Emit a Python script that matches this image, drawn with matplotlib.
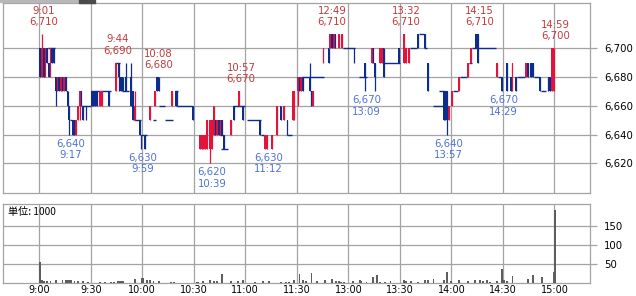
import matplotlib
matplotlib.use('Agg')
import matplotlib.pyplot as plt
from matplotlib.patches import Rectangle
import numpy as np

# session axis in minutes from 9:00 (lunch break removed, 11:30 == 12:30)
tick_pos = [0, 30, 60, 90, 120, 150, 180, 210, 240, 270, 300]
tick_labels = ['9:00', '9:30', '10:00', '10:30', '11:00', '11:30',
               '13:00', '13:30', '14:00', '14:30', '15:00']
price_ticks = [6620, 6640, 6660, 6680, 6700]
vol_ticks = [50, 100, 150]

# one-minute bars that moved
c_min = [0, 1, 2, 3, 4, 5, 6, 7, 8, 9,
         10, 11, 12, 13, 14, 15, 16, 17, 19, 20,
         21, 22, 23, 24, 25, 27, 30, 31, 32, 33,
         35, 36, 40, 44, 46, 47, 48, 50, 53, 54,
         55, 58, 59, 61, 64, 67, 68, 69, 77, 79,
         80, 89, 93, 94, 95, 96, 97, 99, 100, 101,
         102, 103, 104, 105, 106, 107, 111, 113, 116, 118,
         128, 131, 132, 135, 138, 140, 142, 144, 147, 148,
         150, 151, 152, 153, 157, 158, 159, 165, 168, 169,
         170, 171, 172, 174, 176, 183, 189, 193, 194, 195,
         198, 199, 200, 209, 212, 213, 215, 220, 224, 226,
         235, 236, 237, 238, 240, 244, 249, 251, 254, 255,
         266, 269, 272, 274, 275, 277, 283, 284, 286, 287,
         291, 296, 297, 298, 299]
c_open = [6700, 6680, 6700, 6680, 6700, 6690, 6680, 6700, 6700, 6680,
          6670, 6680, 6670, 6680, 6670, 6680, 6670, 6660, 6650, 6650,
          6640, 6650, 6660, 6670, 6660, 6660, 6670, 6670, 6670, 6670,
          6660, 6660, 6670, 6670, 6690, 6680, 6680, 6680, 6680, 6670,
          6650, 6650, 6640, 6640, 6650, 6660, 6680, 6680, 6660, 6670,
          6670, 6660, 6630, 6630, 6630, 6630, 6630, 6630, 6630, 6640,
          6650, 6640, 6650, 6640, 6650, 6640, 6640, 6660, 6660, 6660,
          6650, 6630, 6630, 6630, 6640, 6660, 6650, 6650, 6650, 6650,
          6670, 6680, 6670, 6680, 6680, 6670, 6660, 6690, 6700, 6700,
          6710, 6700, 6710, 6700, 6700, 6700, 6690, 6690, 6700, 6690,
          6690, 6690, 6700, 6700, 6690, 6690, 6690, 6710, 6710, 6690,
          6670, 6670, 6670, 6650, 6660, 6670, 6680, 6690, 6710, 6710,
          6680, 6680, 6690, 6680, 6670, 6680, 6680, 6690, 6690, 6690,
          6680, 6680, 6680, 6670, 6670]
c_high = [6700, 6710, 6700, 6700, 6700, 6690, 6700, 6700, 6700, 6680,
          6680, 6680, 6680, 6680, 6680, 6680, 6670, 6660, 6650, 6650,
          6650, 6660, 6670, 6670, 6660, 6660, 6670, 6670, 6670, 6670,
          6670, 6670, 6670, 6690, 6690, 6680, 6680, 6690, 6690, 6670,
          6670, 6650, 6640, 6640, 6660, 6670, 6680, 6680, 6670, 6670,
          6670, 6660, 6640, 6640, 6640, 6640, 6650, 6650, 6650, 6660,
          6650, 6650, 6650, 6650, 6650, 6640, 6650, 6660, 6670, 6660,
          6650, 6640, 6640, 6640, 6660, 6660, 6660, 6650, 6670, 6670,
          6680, 6680, 6680, 6680, 6690, 6670, 6670, 6700, 6700, 6710,
          6710, 6710, 6710, 6710, 6710, 6700, 6690, 6700, 6700, 6690,
          6700, 6700, 6700, 6700, 6710, 6700, 6700, 6710, 6710, 6690,
          6670, 6670, 6670, 6660, 6670, 6680, 6690, 6700, 6710, 6710,
          6690, 6680, 6690, 6680, 6690, 6680, 6690, 6690, 6690, 6690,
          6680, 6680, 6680, 6700, 6700]
c_low = [6680, 6680, 6680, 6680, 6690, 6680, 6680, 6690, 6690, 6660,
         6670, 6670, 6670, 6670, 6670, 6670, 6660, 6640, 6640, 6640,
         6640, 6650, 6650, 6660, 6650, 6650, 6660, 6660, 6660, 6660,
         6660, 6660, 6660, 6670, 6670, 6670, 6670, 6670, 6660, 6650,
         6650, 6640, 6630, 6630, 6650, 6660, 6670, 6670, 6660, 6660,
         6660, 6650, 6630, 6630, 6630, 6630, 6630, 6620, 6630, 6640,
         6640, 6640, 6640, 6640, 6640, 6630, 6640, 6650, 6660, 6650,
         6640, 6630, 6630, 6630, 6640, 6650, 6650, 6640, 6650, 6650,
         6660, 6670, 6670, 6670, 6670, 6660, 6660, 6690, 6690, 6700,
         6700, 6700, 6700, 6700, 6700, 6690, 6670, 6690, 6690, 6670,
         6690, 6690, 6680, 6690, 6690, 6690, 6690, 6700, 6700, 6670,
         6650, 6650, 6640, 6650, 6660, 6670, 6680, 6690, 6700, 6690,
         6680, 6670, 6670, 6670, 6670, 6670, 6680, 6680, 6680, 6680,
         6670, 6670, 6670, 6670, 6670]
c_close = [6680, 6700, 6680, 6700, 6690, 6680, 6700, 6690, 6690, 6670,
           6680, 6670, 6680, 6670, 6680, 6670, 6660, 6650, 6640, 6640,
           6650, 6660, 6670, 6660, 6650, 6650, 6660, 6660, 6660, 6660,
           6670, 6670, 6660, 6690, 6680, 6670, 6670, 6670, 6660, 6650,
           6660, 6640, 6630, 6630, 6660, 6670, 6670, 6670, 6670, 6660,
           6660, 6650, 6640, 6640, 6640, 6640, 6650, 6650, 6650, 6660,
           6640, 6650, 6640, 6650, 6640, 6630, 6650, 6650, 6670, 6650,
           6640, 6640, 6640, 6640, 6660, 6650, 6660, 6640, 6670, 6670,
           6680, 6670, 6680, 6670, 6670, 6660, 6670, 6700, 6690, 6710,
           6700, 6710, 6700, 6710, 6710, 6690, 6680, 6700, 6690, 6680,
           6700, 6700, 6680, 6690, 6710, 6700, 6700, 6700, 6700, 6670,
           6650, 6650, 6650, 6660, 6670, 6680, 6690, 6700, 6700, 6690,
           6690, 6670, 6670, 6670, 6690, 6670, 6690, 6680, 6680, 6680,
           6670, 6670, 6670, 6700, 6700]

# unchanged stretches (drawn as flat lines)
flat_start = [5, 18, 25, 30, 44, 48, 55, 59, 66, 70, 73, 79, 80, 105, 106, 113, 121, 129,
              144, 153, 177, 186, 201, 216, 221, 224, 229, 233, 241, 245, 250, 252, 267,
              278, 288, 292]
flat_end = [9, 19, 30, 42, 47, 52, 59, 63, 68, 73, 78, 81, 89, 107, 110, 120, 129, 131,
            147, 166, 184, 191, 210, 220, 224, 226, 235, 236, 244, 249, 252, 266, 269,
            283, 291, 295]
flat_price = [6700, 6650, 6660, 6670, 6690, 6670, 6650, 6640, 6650, 6660, 6650, 6670,
              6660, 6640, 6630, 6660, 6650, 6640, 6640, 6680, 6700, 6680, 6690, 6700,
              6710, 6700, 6660, 6670, 6670, 6680, 6690, 6700, 6680, 6680, 6680, 6670]

# marked highs / lows
hi_min = [1, 44, 68, 116, 169, 212, 255, 299]
hi_px = [6710, 6690, 6680, 6670, 6710, 6710, 6710, 6700]
hi_time = ['9:01', '9:44', '10:08', '10:57', '12:49', '13:32', '14:15', '14:59']
lo_min = [17, 59, 99, 132, 189, 237, 269]
lo_px = [6640, 6630, 6620, 6630, 6670, 6640, 6670]
lo_time = ['9:17', '9:59', '10:39', '11:12', '13:09', '13:57', '14:29']

# volume, thousands of shares
vol_min = [0, 1, 2, 4, 6, 9, 13, 15, 16, 17, 18, 20, 22, 25, 28, 35, 36, 38, 41, 43,
           45, 46, 47, 48, 55, 59, 60, 62, 64, 66, 69, 76, 78, 91, 92, 95, 99, 101, 103, 106,
           111, 115, 118, 125, 130, 133, 140, 143, 145, 148, 151, 153, 155, 158, 161, 166,
           170, 172, 174, 175, 177, 182, 186, 187, 190, 194, 196, 198, 201, 204, 212, 213,
           216, 220, 224, 226, 229, 235, 237, 239, 244, 249, 253, 256, 258, 260, 262, 266,
           269, 270, 272, 275, 284, 287, 292, 298, 299, 300]
vol_k = [57, 8, 7, 6, 6, 9, 10, 9, 8, 9, 8, 5, 5, 5, 3, 3, 2, 3, 3, 4,
         6, 6, 5, 6, 11, 15, 14, 10, 8, 7, 5, 3, 3, 3, 3, 6, 10, 6, 5, 25,
         7, 6, 8, 3, 6, 6, 3, 4, 4, 9, 25, 10, 6, 27, 6, 9,
         11, 7, 6, 3, 3, 6, 8, 7, 3, 17, 22, 3, 3, 6, 8, 6,
         6, 3, 8, 8, 11, 8, 30, 6, 8, 6, 10, 8, 5, 9, 4, 5,
         38, 10, 5, 19, 11, 21, 17, 2, 30, 193]

RED = '#e3143c'
BLUE = '#0d2d8c'
HI_TXT = '#c23a3c'
LO_TXT = '#4d72d4'
GRID = '#a3a3a3'
FS = 7.3

W, H = 636, 296
fig = plt.figure(figsize=(W / 100, H / 100), dpi=100)
ax = fig.add_axes([3 / W, 1 - 192.7 / H, 587 / W, 189.7 / H])
axv = fig.add_axes([3 / W, 1 - 283.3 / H, 587 / W, 79.3 / H])

for a in (ax, axv):
    a.set_xlim(-21.1, 320.7)
    a.set_xticks(tick_pos)
    a.yaxis.tick_right()
    a.set_axisbelow(True)
    a.grid(True, color=GRID, lw=0.9)
    for s in a.spines.values():
        s.set_color(GRID)
        s.set_linewidth(0.9)
    a.tick_params(axis='y', length=5, color=GRID, width=0.9, pad=5, labelsize=FS)

# price panel
ax.set_ylim(6599.6, 6731.5)
ax.set_yticks(price_ticks)
ax.set_yticklabels([f'{p:,}' for p in price_ticks])
ax.tick_params(axis='x', length=0, labelbottom=False)

o = np.array(c_open)
c = np.array(c_close)
cols = [RED if cc > oo else BLUE for oo, cc in zip(o, c)]
ax.hlines(flat_price, flat_start, flat_end, colors=BLUE, lw=1.0, zorder=3)
ax.bar(c_min, np.abs(c - o), bottom=np.minimum(o, c), width=1.0, align='edge',
       color=cols, linewidth=0, zorder=4)
ax.vlines(np.array(c_min) + 0.5, c_low, c_high, colors=cols, lw=0.9, zorder=4)

for m, p, t in zip(hi_min, hi_px, hi_time):
    ax.annotate(f'{t}\n{p:,}', xy=(m + 1.5, p), xytext=(0, 7), textcoords='offset pixels',
                ha='center', va='bottom', fontsize=FS, color=HI_TXT, linespacing=1.15,
                zorder=5)
for m, p, t in zip(lo_min, lo_px, lo_time):
    ax.annotate(f'{p:,}\n{t}', xy=(m + 1.5, p), xytext=(0, -4), textcoords='offset pixels',
                ha='center', va='top', fontsize=FS, color=LO_TXT, linespacing=1.15,
                zorder=5)

# volume panel
axv.set_ylim(0, 208.7)
axv.set_yticks(vol_ticks)
axv.set_xticklabels(tick_labels)
axv.tick_params(axis='x', length=0, pad=1.5, labelsize=7.0)
axv.bar(vol_min, vol_k, width=1.1, align='edge', color='#5e5e5e', linewidth=0, zorder=3)
axv.text(0.009, 0.9, '単位: 1000', transform=axv.transAxes, ha='left', va='center',
         fontsize=FS, family=['Noto Sans CJK JP', 'DejaVu Sans'])

# scrap of the page above the chart
fig.patches.append(Rectangle((0, 1 - 1.5 / H), 80 / W, 1.5 / H, transform=fig.transFigure,
                             color='#b8b8b8', zorder=0))
fig.patches.append(Rectangle((79 / W, 1 - 2.5 / H), 16 / W, 2.5 / H, transform=fig.transFigure,
                             color='#4a4a4a', zorder=0))

fig.savefig('out.png', dpi=100)
